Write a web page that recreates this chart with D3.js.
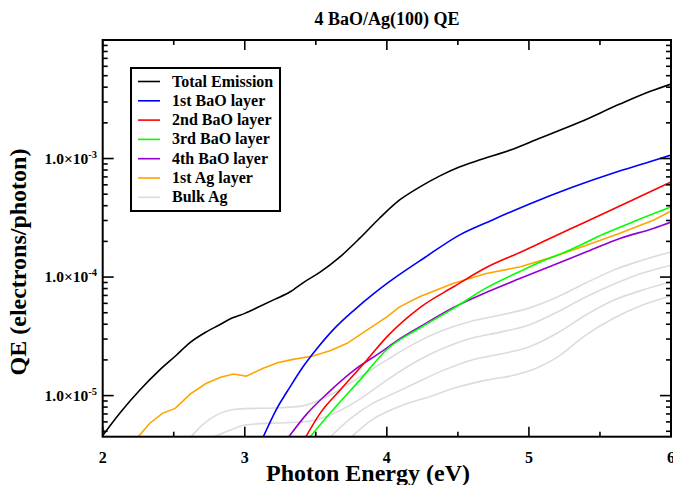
<!DOCTYPE html>
<html><head><meta charset="utf-8">
<script src="https://cdn.jsdelivr.net/npm/d3@7"></script>
<style>body{margin:0;background:#fff}svg text{font-family:"Liberation Serif","Times New Roman",serif;font-weight:bold}</style>
</head><body>
<svg id="c" width="673" height="485"></svg>
<script>
const chartTitle = "4 BaO/Ag(100) QE";
const xTitle = "Photon Energy (eV)";
const yTitle = "QE (electrons/photon)";
const xTickValues = [2, 3, 4, 5, 6];
const xTickLabels = ["2", "3", "4", "5", "6"];
const yTickValues = [1e-5, 1e-4, 1e-3];
const yTickMantissa = ["1.0×10", "1.0×10", "1.0×10"];
const yTickExponent = ["-5", "-4", "-3"];

const totalE  = [2.00,2.12,2.26,2.40,2.52,2.61,2.73,2.82,2.91,3.00,3.10,3.21,3.32,3.42,3.53,3.67,3.81,3.95,4.09,4.23,4.37,4.51,4.65,4.87,5.08,5.36,5.64,5.86,6.00];
const totalQE = [4.6e-6,7.1e-6,1.11e-5,1.64e-5,2.20e-5,2.77e-5,3.45e-5,3.94e-5,4.51e-5,4.94e-5,5.61e-5,6.48e-5,7.52e-5,9.12e-5,1.10e-4,1.48e-4,2.13e-4,3.15e-4,4.47e-4,5.74e-4,7.11e-4,8.48e-4,9.71e-4,1.18e-3,1.49e-3,2.03e-3,2.88e-3,3.71e-3,4.25e-3];

const bao1E  = [3.13,3.22,3.32,3.41,3.51,3.62,3.77,3.91,4.04,4.27,4.51,4.74,5.00,5.30,5.60,5.85,6.00];
const bao1QE = [4.49e-6,7.55e-6,1.19e-5,1.75e-5,2.51e-5,3.57e-5,5.27e-5,7.28e-5,9.55e-5,1.47e-4,2.26e-4,3.02e-4,4.12e-4,5.70e-4,7.60e-4,9.38e-4,1.07e-3];

const bao2E  = [3.43,3.53,3.67,3.86,4.00,4.24,4.47,4.71,4.94,5.17,5.36,5.70,6.00];
const bao2QE = [4.49e-6,7.08e-6,1.11e-5,2.0e-5,3.13e-5,5.61e-5,8.28e-5,1.22e-4,1.62e-4,2.18e-4,2.78e-4,4.30e-4,6.33e-4];

const bao3E  = [3.46,3.62,3.81,4.00,4.23,4.47,4.70,4.94,5.08,5.30,5.53,5.75,6.00];
const bao3QE = [4.49e-6,7.55e-6,1.35e-5,2.45e-5,3.70e-5,5.44e-5,8.1e-5,1.12e-4,1.34e-4,1.72e-4,2.32e-4,2.98e-4,3.90e-4];

const bao4E  = [3.31,3.44,3.58,3.77,3.95,4.09,4.23,4.47,4.71,4.94,5.17,5.41,5.64,5.88,6.00];
const bao4QE = [4.49e-6,7.08e-6,1.04e-5,1.64e-5,2.29e-5,3.0e-5,3.79e-5,5.55e-5,7.52e-5,9.75e-5,1.26e-4,1.64e-4,2.12e-4,2.58e-4,2.91e-4];

const ag1E  = [2.25,2.33,2.42,2.51,2.62,2.73,2.83,2.92,3.01,3.13,3.23,3.34,3.48,3.60,3.72,3.86,4.00,4.09,4.23,4.47,4.70,4.94,5.17,5.41,5.64,5.88,6.00];
const ag1QE = [4.49e-6,5.82e-6,7.08e-6,7.80e-6,1.04e-5,1.27e-5,1.43e-5,1.52e-5,1.46e-5,1.70e-5,1.89e-5,2.02e-5,2.16e-5,2.39e-5,2.76e-5,3.57e-5,4.62e-5,5.61e-5,6.82e-5,8.85e-5,1.07e-4,1.22e-4,1.48e-4,1.86e-4,2.34e-4,3.03e-4,3.61e-4];

const bulk1E  = [2.62,2.70,2.80,2.90,3.00,3.20,3.40,3.60,3.80,4.00,4.20,4.40,4.60,4.80,5.00,5.20,5.40,5.60,5.80,6.00];
const bulk1QE = [4.47e-6,5.64e-6,6.84e-6,7.55e-6,7.77e-6,7.85e-6,8.15e-6,1.01e-5,1.41e-5,2.0e-5,2.77e-5,3.57e-5,4.26e-5,4.78e-5,5.47e-5,6.78e-5,8.90e-5,1.15e-4,1.39e-4,1.63e-4];
const bulk2E  = [2.78,2.90,3.00,3.20,3.40,3.60,3.80,4.00,4.20,4.40,4.60,4.80,5.00,5.20,5.40,5.60,5.80,6.00];
const bulk2QE = [4.47e-6,5.12e-6,5.64e-6,5.86e-6,5.98e-6,6.84e-6,9.16e-6,1.35e-5,1.92e-5,2.52e-5,3.06e-5,3.43e-5,3.94e-5,5.07e-5,6.78e-5,8.73e-5,1.08e-4,1.26e-4];
const bulk3E  = [3.60,3.75,3.90,4.00,4.20,4.40,4.60,4.80,5.00,5.20,5.40,5.60,5.80,6.00];
const bulk3QE = [4.47e-6,6.5e-6,8.6e-6,9.8e-6,1.27e-5,1.64e-5,2.0e-5,2.24e-5,2.57e-5,3.37e-5,4.78e-5,6.40e-5,7.77e-5,9.08e-5];
const bulk4E  = [3.75,3.90,4.00,4.10,4.30,4.50,4.70,4.90,5.00,5.20,5.40,5.60,5.80,6.00];
const bulk4QE = [4.47e-6,6.3e-6,7.3e-6,8.2e-6,9.8e-6,1.18e-5,1.35e-5,1.49e-5,1.61e-5,2.11e-5,3.24e-5,4.51e-5,5.80e-5,6.92e-5];

const legendNames = ["Total Emission","1st BaO layer","2nd BaO layer","3rd BaO layer","4th BaO layer","1st Ag layer","Bulk Ag"];
const legendColors = ["#000000","#0000ff","#ff0000","#00ff00","#9400d3","#ffa500","#dcdcdc"];

const L = 102.7, R = 671, T = 40, B = 436.7;
const svg = d3.select("#c");
const x = d3.scaleLinear().domain([2, 6]).range([L, R]);
const y = d3.scaleLog().domain([4.5e-6, 1e-2]).range([B, T]);

svg.append("defs").append("clipPath").attr("id","clip")
  .append("rect").attr("x",L).attr("y",T).attr("width",R-L).attr("height",B-T);

const series = [
  {E: bulk4E, Q: bulk4QE, c: legendColors[6]},
  {E: bulk3E, Q: bulk3QE, c: legendColors[6]},
  {E: bulk2E, Q: bulk2QE, c: legendColors[6]},
  {E: bulk1E, Q: bulk1QE, c: legendColors[6]},
  {E: ag1E, Q: ag1QE, c: legendColors[5], lin: true},
  {E: bao4E, Q: bao4QE, c: legendColors[4]},
  {E: bao3E, Q: bao3QE, c: legendColors[3]},
  {E: bao2E, Q: bao2QE, c: legendColors[2]},
  {E: bao1E, Q: bao1QE, c: legendColors[1]},
  {E: totalE, Q: totalQE, c: legendColors[0]}
];
const g = svg.append("g").attr("clip-path","url(#clip)");
series.forEach(s => {
  const pts = s.E.map((e,i)=>[e, s.Q[i]]);
  const line = d3.line().x(d=>x(d[0])).y(d=>y(d[1])).curve(s.lin ? d3.curveLinear : d3.curveMonotoneX);
  g.append("path").datum(pts).attr("d", line).attr("fill","none").attr("stroke", s.c).attr("stroke-width", 1.6);
});

// axes (inward ticks)
const xMinor = d3.range(2.5, 6, 1);
function xAxisTicks(yPos, dir) {
  xTickValues.forEach(v => svg.append("line").attr("x1",x(v)).attr("x2",x(v)).attr("y1",yPos).attr("y2",yPos+dir*10).attr("stroke","#000").attr("stroke-width",1.6));
  xMinor.forEach(v => svg.append("line").attr("x1",x(v)).attr("x2",x(v)).attr("y1",yPos).attr("y2",yPos+dir*5).attr("stroke","#000").attr("stroke-width",1.6));
}
xAxisTicks(B, -1); xAxisTicks(T, 1);
const yMinor = [];
[-6,-5,-4,-3].forEach(p => { for (let m=2;m<=9;m++){ const v=m*Math.pow(10,p); if (v>4.5e-6 && v<1e-2) yMinor.push(v);} });
function yAxisTicks(xPos, dir) {
  yTickValues.forEach(v => svg.append("line").attr("x1",xPos).attr("x2",xPos+dir*11).attr("y1",y(v)).attr("y2",y(v)).attr("stroke","#000").attr("stroke-width",1.6));
  yMinor.forEach(v => svg.append("line").attr("x1",xPos).attr("x2",xPos+dir*5).attr("y1",y(v)).attr("y2",y(v)).attr("stroke","#000").attr("stroke-width",1.6));
}
yAxisTicks(L, 1); yAxisTicks(R, -1);

svg.append("rect").attr("x",L).attr("y",T).attr("width",R-L).attr("height",B-T)
  .attr("fill","none").attr("stroke","#000").attr("stroke-width",2);

// tick labels
xTickValues.forEach((v,i) => svg.append("text").attr("x",x(v)).attr("y",463).attr("text-anchor","middle")
  .style("font-size","16px").text(xTickLabels[i]));
yTickValues.forEach((v,i) => {
  const t = svg.append("text").attr("x",97).attr("y",y(v)+5).attr("text-anchor","end").style("font-size","15.5px");
  t.append("tspan").text(yTickMantissa[i]);
  t.append("tspan").attr("dy",-6).style("font-size","10.5px").text(yTickExponent[i]);
});

// titles
svg.append("text").attr("x",387).attr("y",25).attr("text-anchor","middle").style("font-size","18px").text(chartTitle);
svg.append("text").attr("x",368).attr("y",481).attr("text-anchor","middle").style("font-size","24px").text(xTitle);
svg.append("text").attr("transform","translate(26,262) rotate(-90)").attr("text-anchor","middle").style("font-size","24px").text(yTitle);

// legend
const lg = svg.append("g");
lg.append("rect").attr("x",131).attr("y",68).attr("width",149).attr("height",143).attr("fill","#fff").attr("stroke","#000").attr("stroke-width",2);
legendNames.forEach((n,i) => {
  const yy = 81.5 + i*19.3;
  lg.append("line").attr("x1",138).attr("x2",160).attr("y1",yy).attr("y2",yy).attr("stroke",legendColors[i]).attr("stroke-width",1.6);
  lg.append("text").attr("x",172).attr("y",yy+5).style("font-size","16px").text(n);
});
</script>
</body></html>
